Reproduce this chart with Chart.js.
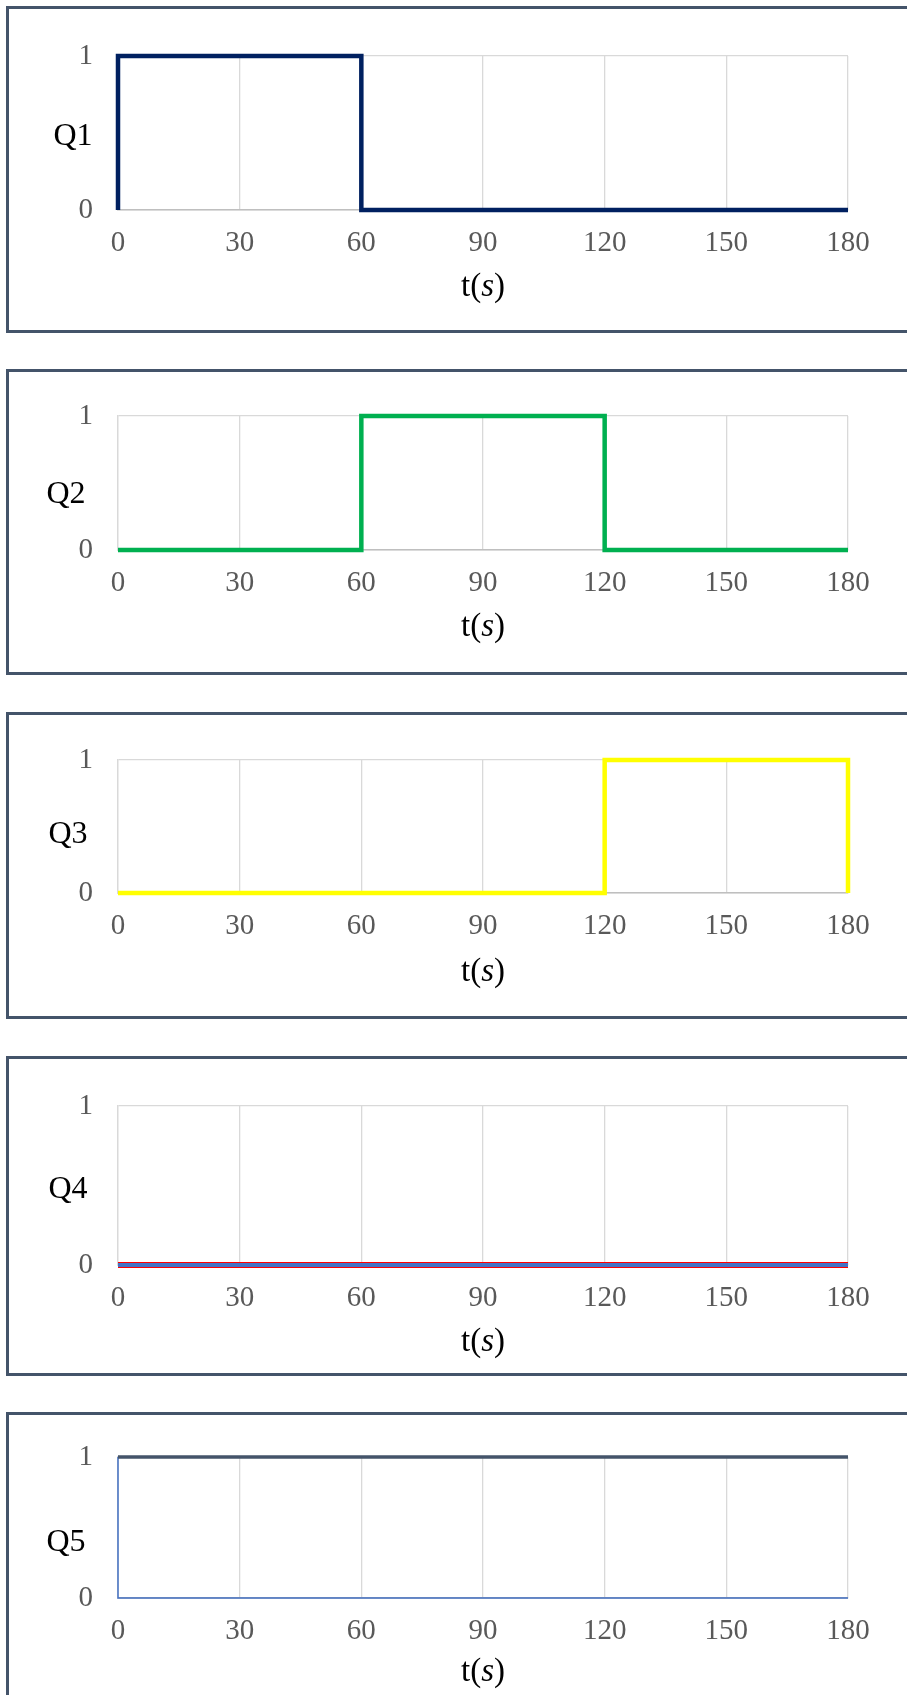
<!DOCTYPE html>
<html>
<head>
<meta charset="utf-8">
<script src="https://cdn.jsdelivr.net/npm/chart.js@4.4.1/dist/chart.umd.min.js"></script>
<style>
  html, body { margin: 0; padding: 0; background: #fff; }
  body { width: 907px; height: 1695px; overflow: hidden; position: relative; }
  .panel { position: absolute; left: 6px; width: 960px; border: 3px solid #44546a; box-sizing: border-box; }
  canvas { position: absolute; left: 0; }
</style>
</head>
<body>
<script>
// time axis ticks and level ticks
const timeTicks = [0, 30, 60, 90, 120, 150, 180];
const levelTicks = [0, 1];

// Q1
const q1Time = [0, 0, 60, 60, 180];
const q1Level = [0, 1, 1, 0, 0];
// Q2
const q2Time = [0, 60, 60, 120, 120, 180];
const q2Level = [0, 0, 1, 1, 0, 0];
// Q3
const q3Time = [0, 120, 120, 180, 180];
const q3Level = [0, 0, 1, 1, 0];
// Q4 (two series, both off)
const q4aTime = [0, 180];
const q4aLevel = [0, 0];
const q4bTime = [0, 180];
const q4bLevel = [0, 0];
// Q5
const q5aTime = [0, 180];
const q5aLevel = [1, 1];
const q5bTime = [0, 0, 180];
const q5bLevel = [1, 0, 0];

function toPoints(times, levels) {
  return times.map((t, i) => ({x: t, y: levels[i]}));
}

function line(times, levels, color, width) {
  return {
    data: toPoints(times, levels),
    borderColor: color,
    borderWidth: width,
    pointRadius: 0,
    tension: 0,
    fill: false,
    clip: false,
    borderJoinStyle: 'miter'
  };
}

const serif = "'Liberation Serif', 'DejaVu Serif', serif";

// draws the horizontal Q label and the t(s) title
const sideLabels = {
  id: 'sideLabels',
  afterDraw(chart, args, opts) {
    const ctx = chart.ctx;
    const area = chart.chartArea;
    ctx.save();
    ctx.fillStyle = '#000';
    ctx.textBaseline = 'middle';
    ctx.textAlign = 'center';
    ctx.font = '32px ' + serif;
    ctx.fillText(opts.name, opts.nameX, opts.nameY);

    // t(s) with italic s
    const parts = [['t(', '33px '], ['s', 'italic 33px '], [')', '33px ']];
    let total = 0;
    parts.forEach(p => { ctx.font = p[1] + serif; total += ctx.measureText(p[0]).width; });
    let x = (area.left + area.right) / 2 - total / 2;
    ctx.textAlign = 'left';
    parts.forEach(p => {
      ctx.font = p[1] + serif;
      ctx.fillText(p[0], x, opts.titleY);
      x += ctx.measureText(p[0]).width;
    });
    ctx.restore();
  }
};

const panels = [
  {name: 'Q1', top: 6, bottom: 333, plotTop: 56, plotBottom: 210, nameX: 73, nameY: 137, titleY: 287,
   datasets: [line(q1Time, q1Level, '#002060', 4.5)]},
  {name: 'Q2', top: 369, bottom: 675, plotTop: 416, plotBottom: 550, nameX: 66, nameY: 495, titleY: 627,
   datasets: [line(q2Time, q2Level, '#00b050', 4.5)]},
  {name: 'Q3', top: 712, bottom: 1019, plotTop: 760, plotBottom: 893, nameX: 68, nameY: 835, titleY: 972,
   datasets: [line(q3Time, q3Level, '#ffff00', 4.5)]},
  {name: 'Q4', top: 1056, bottom: 1376, plotTop: 1106, plotBottom: 1265, nameX: 68, nameY: 1190, titleY: 1342,
   datasets: [line(q4aTime, q4aLevel, '#4472c4', 4), line(q4bTime, q4bLevel, '#ff0000', 6)]},
  {name: 'Q5', top: 1412, bottom: 1730, plotTop: 1457, plotBottom: 1598, nameX: 66, nameY: 1543, titleY: 1672,
   datasets: [line(q5aTime, q5aLevel, '#44546a', 3.5), line(q5bTime, q5bLevel, '#4472c4', 1.5)]}
];

panels.forEach(p => {
  const box = document.createElement('div');
  box.className = 'panel';
  box.style.top = p.top + 'px';
  box.style.height = (p.bottom - p.top) + 'px';
  document.body.appendChild(box);

  const h = Math.min(p.bottom, 1695) - p.top;
  const canvas = document.createElement('canvas');
  canvas.width = 907;
  canvas.height = h;
  canvas.style.top = p.top + 'px';
  document.body.appendChild(canvas);

  new Chart(canvas, {
    type: 'line',
    data: {datasets: p.datasets},
    options: {
      responsive: false,
      animation: false,
      layout: {padding: {top: p.plotTop - p.top, right: 59, left: 0, bottom: 0}},
      plugins: {
        legend: {display: false},
        tooltip: {enabled: false},
        sideLabels: {name: p.name, nameX: p.nameX, nameY: p.nameY - p.top, titleY: p.titleY - p.top}
      },
      scales: {
        x: {
          type: 'linear',
          min: timeTicks[0],
          max: timeTicks[timeTicks.length - 1],
          afterBuildTicks: s => { s.ticks = timeTicks.map(v => ({value: v})); },
          afterFit: s => { s.height = h - (p.plotBottom - p.top); },
          grid: {color: '#d9d9d9', lineWidth: 1.3, drawTicks: false},
          border: {color: '#bfbfbf', width: 1.5},
          ticks: {color: '#595959', font: {family: serif, size: 29}, padding: 16, maxRotation: 0}
        },
        y: {
          min: levelTicks[0],
          max: levelTicks[levelTicks.length - 1],
          afterBuildTicks: s => { s.ticks = levelTicks.map(v => ({value: v})); },
          afterFit: s => { s.width = 118; },
          grid: {color: '#d9d9d9', lineWidth: 1.3, drawTicks: false},
          border: {color: '#d9d9d9', width: 1.3},
          ticks: {color: '#595959', font: {family: serif, size: 29}, padding: 25}
        }
      }
    },
    plugins: [sideLabels]
  });
});
</script>
</body>
</html>
